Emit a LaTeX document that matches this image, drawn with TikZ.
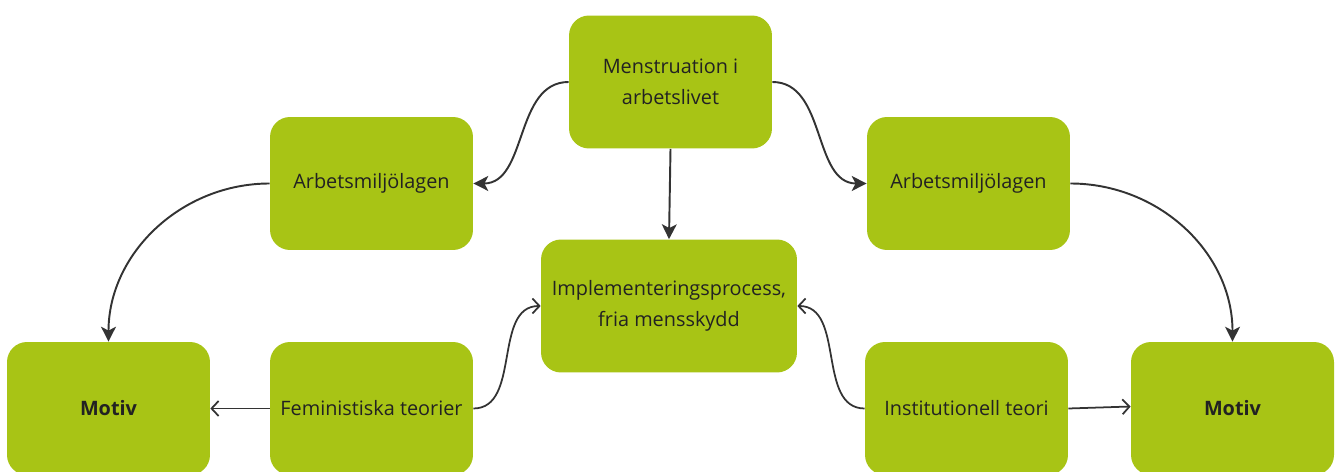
\documentclass[tikz,border=0pt]{standalone}
\usepackage{fontspec}
\setmainfont{Open Sans}
\usepackage{tikz}
\usetikzlibrary{arrows.meta}
\definecolor{boxgreen}{RGB}{168,196,21}
\definecolor{linegray}{RGB}{51,51,51}
\definecolor{textgray}{RGB}{34,34,34}

\begin{document}
\begin{tikzpicture}[x=0.02cm, y=-0.02cm,
	box/.style={fill=boxgreen, rounded corners=0.4cm, minimum width=4.06cm, minimum height=2.66cm,
		align=center, text=textgray, font=\fontsize{11.3}{17.8}\selectfont},
	fat/.style={draw=linegray, line width=1.1pt, -{Stealth[length=8.5pt,width=8.5pt,inset=2.2pt]}},
	thin/.style={draw=linegray, line width=1pt, -{Straight Barb[length=4pt,width=8.5pt]}}]
	\clip (0,0) rectangle (1338,472);
	
	% ===================== Kästchen =====================
	\node[box] (mens) at (670.5,82) {Menstruation i\\arbetslivet};
	\node[box] (amlL) at (371.5,183.5) {Arbetsmiljölagen};
	\node[box] (amlR) at (968.5,183.5) {Arbetsmiljölagen};
	\node[box, minimum width=5.12cm] (impl) at (669,306) {Implementeringsprocess,\\fria mensskydd};
	\node[box] (motivL) at (108.5,408.5) {\bfseries Motiv};
	\node[box] (fem) at (371.5,408.5) {Feministiska teorier};
	\node[box] (inst) at (966.5,408.5) {Institutionell teori};
	\node[box] (motivR) at (1232.5,408.5) {\bfseries Motiv};
	
	% ===================== Pilar =====================
	\draw[fat] (mens.west) to[out=180, in=0] (amlL.east);
	\draw[fat] (mens.east) to[out=0, in=180] (amlR.west);
	\draw[fat] (mens.south) to (impl.north);
	\draw[fat] (amlL.west) to[out=180, in=90] (motivL.north);
	\draw[fat] (amlR.east) to[out=0, in=90] (motivR.north);
	
	\draw[thin] (fem.west) to (motivL.east);
	\draw[thin] (fem.east) to[out=0, in=180] (impl.west);
	\draw[thin] (inst.west) to[out=180, in=0] (impl.east);
	\draw[thin] (inst.east) to ([yshift=0.04cm]motivR.west);
\end{tikzpicture}
\end{document}
